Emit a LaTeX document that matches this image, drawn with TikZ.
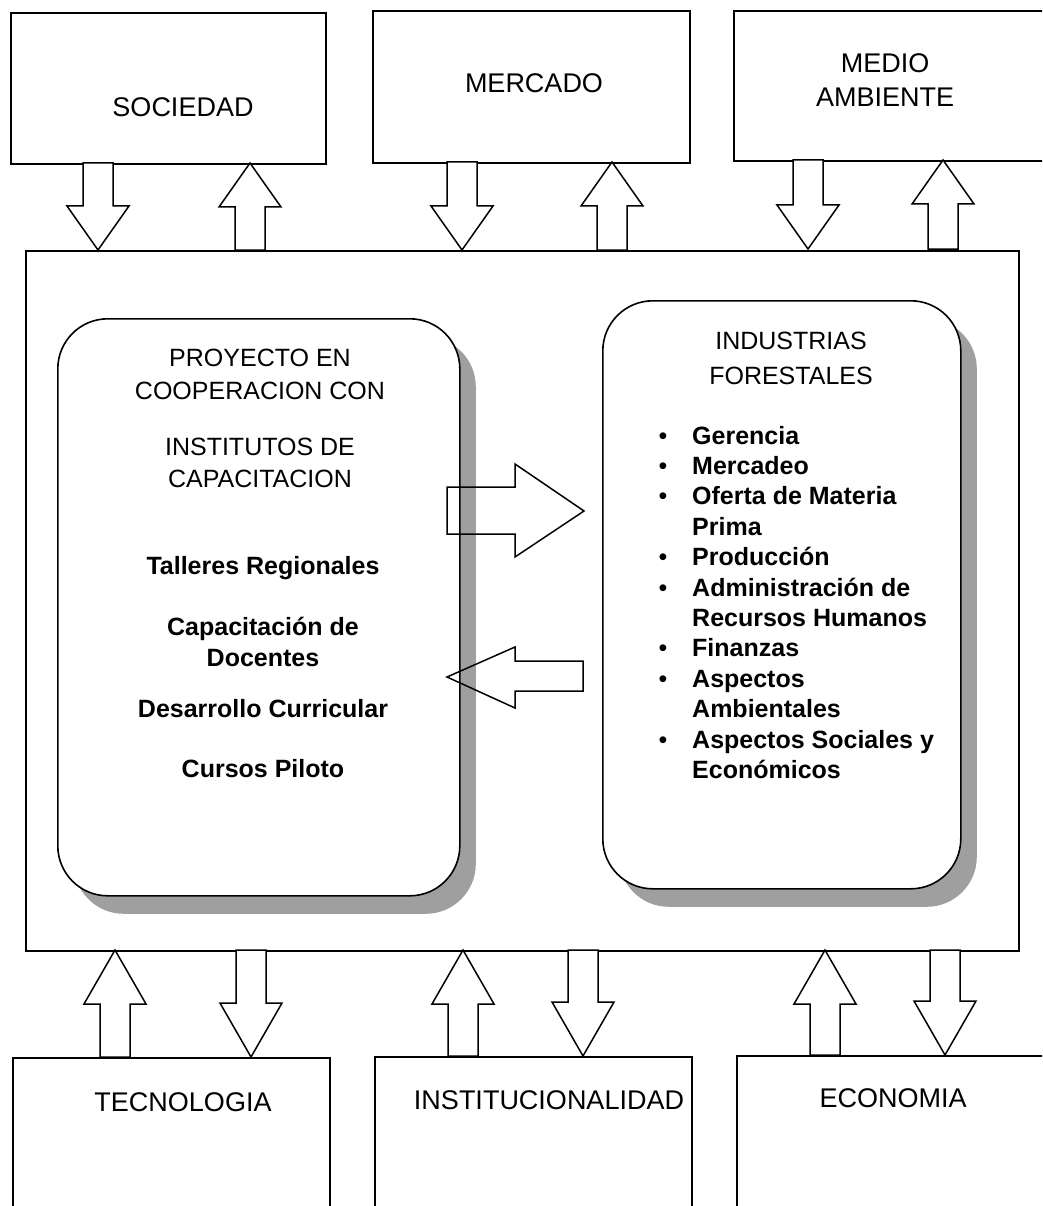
\documentclass[tikz,border=0pt]{standalone}
\usepackage{fontspec}
\setmainfont{Liberation Sans}
\usetikzlibrary{shadows}
\newcommand{\BlkDown}[4]{% x, top y, tip y, head length
  \draw[blk] ({#1-15},#2) -- ({#1+15},#2) -- ({#1+15},{#3-#4}) -- ({#1+31},{#3-#4}) -- (#1,#3) -- ({#1-31},{#3-#4}) -- ({#1-15},{#3-#4}) -- cycle;}
\newcommand{\BlkUp}[4]{% x, tip y, bottom y, head length
  \draw[blk] (#1,#2) -- ({#1+31},{#2+#4}) -- ({#1+15},{#2+#4}) -- ({#1+15},#3) -- ({#1-15},#3) -- ({#1-15},{#2+#4}) -- ({#1-31},{#2+#4}) -- cycle;}
\begin{document}
\begin{tikzpicture}[x=1pt,y=-1pt,
  box/.style={draw, line width=1.6pt, fill=white, inner sep=0pt, anchor=north west},
  rbox/.style={draw, line width=1.6pt, fill=white, inner sep=0pt, anchor=north west, rounded corners=50pt,
     drop shadow={shadow xshift=16pt, shadow yshift=-18pt, fill=gray!75, opacity=1}},
  blk/.style={draw, line width=1.5pt, fill=white, line join=miter},
  oblk/.style={draw, line width=1.5pt, line join=miter},
  outer/.style={font=\fontsize{27}{32}\selectfont, align=center},
  inner/.style={font=\fontsize{25}{32}\selectfont, anchor=base},
  innerb/.style={font=\fontsize{25}{32}\selectfont\bfseries, anchor=base}]
\useasboundingbox (0,0) rectangle (1042,1206);
\clip (0,0) rectangle (1042,1206);
% main frame
\node[box, minimum width=993pt, minimum height=700pt] (main) at (25,250) {};
% outer boxes
\node[box, minimum width=315pt, minimum height=151pt] (soc) at (10,12) {};
\node[box, minimum width=317pt, minimum height=152pt] (mer) at (372,10) {};
\node[box, minimum width=330pt, minimum height=150pt] (med) at (733,10) {};
\node[box, minimum width=317pt, minimum height=200pt] (tec) at (12,1057) {};
\node[box, minimum width=317pt, minimum height=200pt] (ins) at (374,1056) {};
\node[box, minimum width=330pt, minimum height=200pt] (eco) at (736,1055) {};
\node[outer] (socT) at (183,107) {SOCIEDAD};
\node[outer] (merT) at (534,83) {MERCADO};
\node[outer, font=\fontsize{27}{34}\selectfont] (medT) at (885,80) {MEDIO\\AMBIENTE};
\node[outer] (tecT) at (183,1102) {TECNOLOGIA};
\node[outer] (insT) at (549,1100) {INSTITUCIONALIDAD};
\node[outer] (ecoT) at (893,1098) {ECONOMIA};
% top arrows
\BlkDown{98}{163}{250}{44}
\BlkUp{250}{163}{250}{44}
\BlkDown{462}{162}{250}{44}
\BlkUp{612}{162}{250}{44}
\BlkDown{808}{160}{249}{44}
\BlkUp{943}{160}{249}{44}
% bottom arrows
\BlkUp{115}{950}{1057}{54}
\BlkDown{251}{950}{1057}{54}
\BlkUp{463}{950}{1056}{54}
\BlkDown{583}{950}{1056}{54}
\BlkUp{825}{950}{1055}{54}
\BlkDown{945}{950}{1055}{54}
% inner rounded boxes
\node[rbox, minimum width=402pt, minimum height=577pt] (lbox) at (57,318) {};
\node[rbox, minimum width=358pt, minimum height=588pt] (rbox) at (602,300) {};
% left texts
\foreach \t/\y [count=\i] in {PROYECTO EN/366, COOPERACION CON/399, INSTITUTOS DE/455, CAPACITACION/487}
  \node[inner] (lt\i) at (260,\y) {\t};
\foreach \t/\y [count=\i] in {Talleres Regionales/574, Capacitación de/635, Docentes/666, Desarrollo Curricular/717, Cursos Piloto/777}
  \node[innerb] (lb\i) at (263,\y) {\t};
% right texts
\node[inner] (rt1) at (791,349) {INDUSTRIAS};
\node[inner] (rt2) at (791,384) {FORESTALES};
\foreach \t/\b [count=\i] in {Gerencia/1, Mercadeo/1, Oferta de Materia/1, Prima/0, Producción/1, Administración de/1, Recursos Humanos/0, Finanzas/1, Aspectos/1, Ambientales/0, Aspectos Sociales y/1, Económicos/0}{
  \pgfmathsetmacro{\yy}{444+30.4*(\i-1)}
  \node[innerb, anchor=base west, inner sep=0pt] (ri\i) at (692,\yy) {\t};
  \ifnum\b=1 \node[inner, inner sep=0pt] (rb\i) at (663,\yy) {\textbullet}; \fi
}
% middle arrows
\draw[oblk] (447,487) -- (515,487) -- (515,464) -- (584,511) -- (515,557) -- (515,534) -- (447,534) -- cycle;
\draw[oblk] (447,677) -- (515,647) -- (515,661) -- (583,661) -- (583,691) -- (515,691) -- (515,708) -- cycle;
\end{tikzpicture}
\end{document}
